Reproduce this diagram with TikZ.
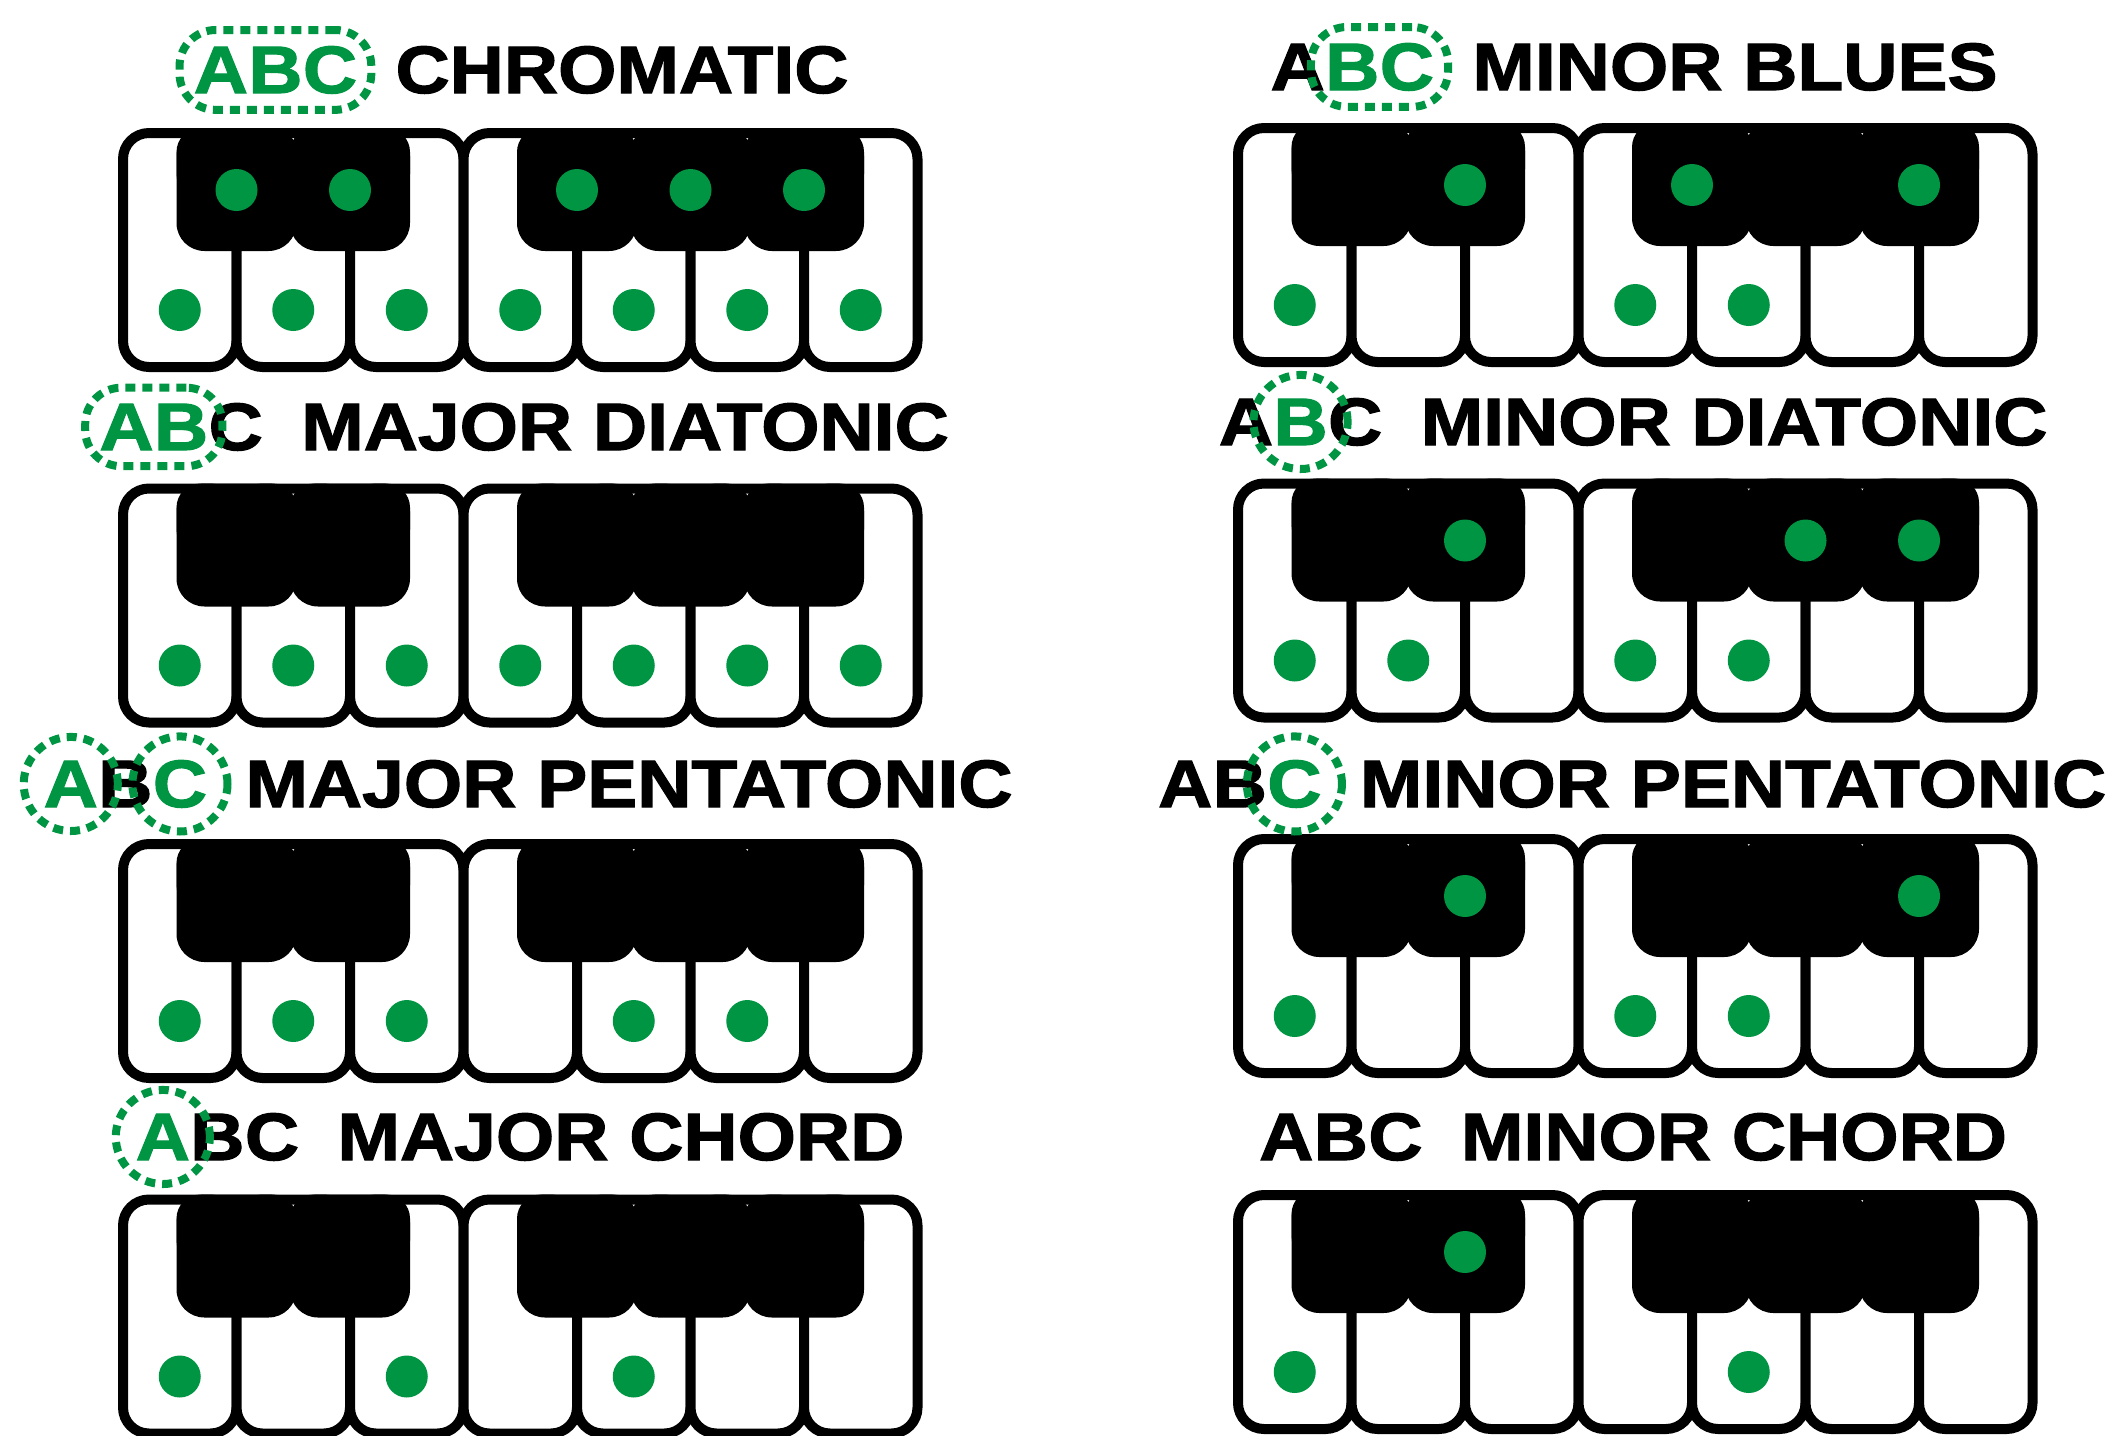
\documentclass[tikz,border=0pt]{standalone}
\usepackage{fontspec}
\usepackage{xcolor}
\usetikzlibrary{positioning,fit}

\newfontfamily\titlefont{Liberation Sans}[UprightFont={* Bold}, FakeStretch=1.12, FakeBold=1.8]
\definecolor{scalegreen}{RGB}{0,149,67}

% one keyboard: origin x, origin y, white keys with a dot, black keys with a dot (0 = none)
\newcommand{\pianokeys}[4]{%
  \begin{scope}[shift={(#1,#2)}]
    \foreach \k in {0,...,6}
      \draw[whitekey] (\k*113.5,0) rectangle ++(113.5,234);
    \foreach \b in {1,2,4,5,6} {
      \fill[blackkey] (\b*113.5-60,-5) rectangle ++(120,123);
      \fill[blackkey, rounded corners=24pt] (\b*113.5-60,-5) rectangle ++(120,70);
    }
    \foreach \k in {#3}
      {\ifnum\k>0 \fill[notedot] (\k*113.5-56.75,177) circle[radius=21];\fi}
    \foreach \b in {#4}
      {\ifnum\b>0 \fill[notedot] (\b*113.5,57) circle[radius=21];\fi}
  \end{scope}}

% scale name: word, then the letters A B C to its left
\newcommand{\scaletitle}[7]{%
  \node[title] (#1w) at (#2,#3) {#4};
  \node[title, text=#7, left=38pt of #1w.base west, anchor=base east] (#1c) {C};
  \node[title, text=#6, left=0pt of #1c.base west, anchor=base east] (#1b) {B};
  \node[title, text=#5, left=0pt of #1b.base west, anchor=base east] (#1a) {A};}

\begin{document}
\begin{tikzpicture}[x=1pt, y=-1pt,
    whitekey/.style={draw=black, fill=white, line width=10pt, rounded corners=26pt},
    blackkey/.style={fill=black, rounded corners=28pt},
    notedot/.style={fill=scalegreen},
    title/.style={font=\titlefont\fontsize{67}{67}\selectfont, inner sep=0pt, anchor=base},
    ring/.style={draw=scalegreen, line width=8pt, dash pattern=on 10pt off 7pt},
    ringbox/.style={ring, rounded corners=36pt, inner xsep=14pt, inner ysep=16pt},
    ringround/.style={ring, circle, inner sep=8pt}]
    \useasboundingbox (0,0) rectangle (2124,1435);

    % left column
    \pianokeys{123}{133}{1,2,3,4,5,6,7}{1,2,4,5,6}
    \pianokeys{123}{488.5}{1,2,3,4,5,6,7}{0}
    \pianokeys{123}{844}{1,2,3,5,6}{0}
    \pianokeys{123}{1199.5}{1,3,5}{0}
    % right column
    \pianokeys{1238}{128}{1,4,5}{2,4,6}
    \pianokeys{1238}{483.5}{1,2,4,5}{2,5,6}
    \pianokeys{1238}{839}{1,4,5}{2,6}
    \pianokeys{1238}{1195}{1,5}{2}

    \scaletitle{l1}{622}{93}{CHROMATIC}{scalegreen}{scalegreen}{scalegreen}
    \scaletitle{l2}{625}{450}{MAJOR DIATONIC}{scalegreen}{scalegreen}{black}
    \scaletitle{l3}{629}{807}{MAJOR PENTATONIC}{scalegreen}{black}{scalegreen}
    \scaletitle{l4}{621}{1160}{MAJOR CHORD}{scalegreen}{black}{black}
    \scaletitle{r1}{1735}{90}{MINOR BLUES}{black}{scalegreen}{scalegreen}
    \scaletitle{r2}{1734}{445}{MINOR DIATONIC}{black}{scalegreen}{black}
    \scaletitle{r3}{1733}{807}{MINOR PENTATONIC}{black}{black}{scalegreen}
    \scaletitle{r4}{1734}{1160}{MINOR CHORD}{black}{black}{black}

    % dotted rings round the root letters
    \node[ringbox, fit=(l1a)(l1c)] (l1ring) {};
    \node[ringbox, fit=(l2a)(l2b)] (l2ring) {};
    \node[ringround, fit=(l3a)] (l3ringa) {};
    \node[ringround, fit=(l3c)] (l3ringc) {};
    \node[ringround, fit=(l4a)] (l4ring) {};
    \node[ringbox, fit=(r1b)(r1c)] (r1ring) {};
    \node[ringround, fit=(r2b)] (r2ring) {};
    \node[ringround, fit=(r3c)] (r3ring) {};
\end{tikzpicture}
\end{document}
